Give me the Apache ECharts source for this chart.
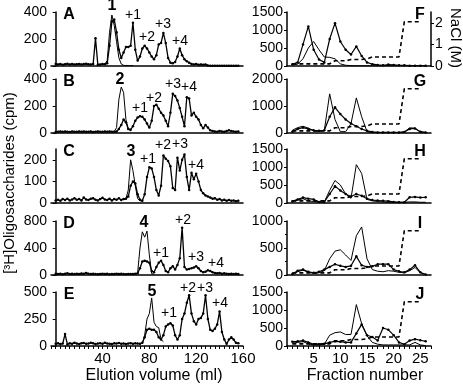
<!DOCTYPE html>
<html>
<head>
<meta charset="utf-8">
<script src="https://cdn.jsdelivr.net/npm/echarts@6/dist/echarts.min.js"></script>
<style>
html, body { margin: 0; padding: 0; background: #fff; }
#chart { width: 463px; height: 386px; }
</style>
</head>
<body>
<div id="chart"></div>
<script>
// elution volume (ml), one point every 2 ml
var volume = [0, 2, 4, 6, 8, 10, 12, 14, 16, 18, 20, 22, 24, 26, 28, 30, 32, 34, 36, 38,
	40, 42, 44, 46, 48, 50, 52, 54, 56, 58, 60, 62, 64, 66, 68, 70, 72, 74, 76, 78,
	80, 82, 84, 86, 88, 90, 92, 94, 96, 98, 100, 102, 104, 106, 108, 110, 112, 114, 116, 118,
	120, 122, 124, 126, 128, 130, 132, 134, 136, 138, 140, 142, 144, 146, 148, 150, 152, 154, 156];

// [3H]oligosaccharides (cpm), traces with dots
var cpmA = [15, 12, 14, 10, 13, 16, 12, 14, 11, 13, 15, 12, 14, 16, 13, 12, 14, 205, 10, 12,
	14, 13, 20, 150, 330, 345, 250, 120, 60, 100, 140, 140, 150, 320, 120, 40, 70, 130, 150, 130,
	100, 70, 50, 80, 160, 170, 245, 170, 60, 25, 20, 30, 70, 130, 80, 50, 35, 25, 15, 12,
	14, 10, 12, 10, 12, 4, 2, 2, 2, 2, 2, 2, 2, 2, 2, 2, 2, 2, 2];
var cpmB = [8, 10, 12, 9, 11, 10, 8, 12, 10, 9, 11, 10, 12, 9, 10, 11, 8, 10, 12, 10,
	9, 11, 10, 12, 10, 9, 11, 30, 60, 100, 80, 30, 25, 50, 90, 115, 125, 120, 100, 70,
	40, 90, 200, 210, 180, 150, 130, 90, 50, 150, 290, 275, 240, 185, 120, 50, 265, 255, 130, 150,
	120, 100, 60, 35, 60, 40, 20, 15, 12, 10, 15, 12, 10, 14, 20, 15, 12, 10, 12];
var cpmC = [12, 15, 10, 18, 14, 20, 12, 16, 22, 15, 18, 12, 25, 16, 14, 20, 22, 15, 12, 18,
	24, 16, 14, 20, 12, 18, 15, 22, 14, 18, 20, 30, 80, 100, 90, 40, 15, 10, 40, 120,
	165, 160, 120, 60, 35, 80, 220, 205, 195, 170, 70, 60, 210, 150, 200, 225, 120, 60, 140, 110,
	135, 100, 60, 45, 35, 30, 25, 20, 22, 15, 18, 12, 15, 10, 14, 10, 12, 8, 10];
var cpmD = [20, 15, 18, 12, 20, 25, 15, 18, 14, 20, 16, 22, 18, 30, 20, 15, 18, 14, 12, 16,
	20, 15, 18, 12, 14, 16, 20, 15, 18, 14, 12, 16, 15, 14, 18, 25, 100, 200, 210, 200,
	180, 60, 40, 120, 180, 210, 150, 60, 40, 100, 130, 80, 150, 250, 700, 120, 80, 90, 100, 110,
	130, 100, 60, 40, 50, 70, 60, 40, 30, 25, 30, 20, 25, 20, 15, 20, 15, 18, 15];
var cpmE = [20, 25, 18, 22, 110, 15, 25, 20, 30, 22, 18, 25, 28, 20, 22, 30, 25, 18, 22, 26,
	20, 30, 24, 20, 18, 25, 22, 28, 20, 24, 18, 22, 26, 20, 25, 22, 20, 30, 80, 150,
	160, 150, 150, 130, 80, 60, 100, 180, 200, 210, 190, 100, 60, 100, 250, 300, 400, 470, 300, 230,
	200, 250, 260, 300, 470, 250, 150, 140, 160, 200, 320, 130, 60, 20, 60, 80, 60, 30, 25];

// thin traces (no dots) around the first peak
var thinVolA = [42, 44, 46, 48, 50, 52, 54, 56, 58, 60, 62, 64, 66];
var thinA = [15, 40, 250, 378, 300, 180, 60, 15, 5, 3, 3, 3, 3];
var thinVolB = [50, 52, 54, 56, 58, 60, 62, 64];
var thinB = [10, 40, 250, 340, 300, 100, 30, 15];
var thinVolC = [58, 60, 62, 64, 66, 68, 70, 72, 74];
var thinC = [15, 20, 60, 200, 150, 80, 20, 10, 10];
var thinVolD = [70, 72, 74, 76, 78, 80, 82, 84];
var thinD = [30, 400, 640, 560, 650, 300, 20, 10];
var thinVolE = [74, 76, 78, 80, 82, 84, 86, 88, 90, 92];
var thinE = [20, 100, 250, 300, 445, 220, 180, 170, 60, 40];

// ion exchange fractions
var fraction = [1, 2, 3, 4, 5, 6, 7, 8, 9, 10, 11, 12, 13, 14, 15, 16, 17, 18, 19, 20, 21, 22, 23, 24, 25, 26];
var dotF = [50, 100, 600, 1100, 450, 180, 100, 750, 1190, 680, 450, 320, 545, 280, 100, 50, 30, 20, 40, 30, 20, 20, 10, 10, 10, 10];
var lineF = [30, 50, 200, 500, 680, 450, 250, 240, 200, 60, 20, 10, 5, 5, 5, 5, 5, 5, 5, 5, 5, 5, 5, 5, 5, 5];
var dotG = [50, 150, 200, 150, 100, 80, 100, 600, 950, 700, 500, 350, 250, 150, 80, 40, 20, 20, 20, 20, 20, 40, 150, 170, 50, 20];
var lineG = [100, 200, 250, 180, 80, 60, 100, 1450, 500, 50, 50, 350, 1300, 600, 50, 20, 10, 10, 10, 10, 10, 40, 190, 180, 30, 10];
var dotH = [50, 100, 150, 120, 100, 30, 30, 250, 465, 350, 250, 180, 250, 200, 120, 80, 70, 60, 50, 30, 20, 20, 160, 170, 150, 160];
var lineH = [30, 80, 120, 60, 40, 20, 30, 350, 625, 500, 250, 130, 1065, 820, 100, 60, 40, 30, 20, 20, 20, 20, 30, 30, 20, 20];
var dotI = [20, 80, 100, 60, 40, 60, 100, 150, 200, 170, 150, 170, 345, 180, 150, 160, 200, 200, 200, 100, 70, 50, 100, 180, 50, 10];
var lineI = [10, 60, 90, 50, 30, 40, 80, 300, 442, 467, 370, 270, 727, 890, 300, 100, 70, 60, 80, 70, 50, 40, 80, 140, 40, 5];
var dotJ = [120, 130, 150, 100, 50, 50, 60, 100, 130, 120, 100, 100, 350, 600, 300, 250, 150, 500, 450, 300, 100, 50, 150, 190, 160, 130];
var lineJ = [80, 100, 120, 60, 30, 30, 50, 300, 370, 390, 320, 320, 1150, 620, 280, 100, 50, 30, 30, 30, 30, 30, 30, 100, 30, 10];

// NaCl gradient (M), fractions 1-25
var nacl = [0.1, 0.1, 0.1, 0.1, 0.1, 0.1, 0.1, 0.1, 0.24, 0.24, 0.24, 0.3, 0.3, 0.3, 0.33, 0.42, 0.42, 0.42, 0.42, 0.42, 0.42, 2.05, 2.05, 2.05, 2.05];

var leftMax = [400, 400, 250, 800, 500];
var leftStep = [200, 200, 100, 400, 250];
var rightMax = [1500, 2000, 1500, 1000, 1500];
var rightStep = [500, 1000, 500, 500, 500];

var leftDots = [cpmA, cpmB, cpmC, cpmD, cpmE];
var leftThinX = [thinVolA, thinVolB, thinVolC, thinVolD, thinVolE];
var leftThin = [thinA, thinB, thinC, thinD, thinE];
var rightDots = [dotF, dotG, dotH, dotI, dotJ];
var rightLines = [lineF, lineG, lineH, lineI, lineJ];

var FONT = '"Liberation Sans", Arial, sans-serif';
var tops = [12, 79, 149, 221, 292];
var H = 54;

var grids = [], xAxes = [], yAxes = [], series = [];

function pairs(xs, ys) {
	return xs.map(function (x, i) { return [x, ys[i]]; });
}
function plain(v) { return String(v); }

// left column: elution profiles (grids 0-4)
for (var k = 0; k < 5; k++) {
	grids.push({ left: 51, top: tops[k], width: 192, height: H });
	xAxes.push({
		type: 'value', gridIndex: k, min: -4, max: 160, interval: 4,
		axisLine: { lineStyle: { color: '#000', width: 1.5 } },
		axisTick: { show: k === 4, length: 3, lineStyle: { color: '#000' } },
		axisLabel: {
			show: k === 4, color: '#000', fontSize: 15, fontFamily: FONT, margin: 5,
			formatter: function (v) { return (v > 0 && v % 40 === 0) ? String(v) : ''; }
		},
		splitLine: { show: false }
	});
}
// right column: ion exchange (grids 5-9)
for (var k = 0; k < 5; k++) {
	grids.push({ left: 287, top: tops[k], width: 144, height: H });
	xAxes.push({
		type: 'value', gridIndex: k + 5, min: 0, max: 27, interval: 1,
		axisLine: { lineStyle: { color: '#000', width: 1.5 } },
		axisTick: { show: k === 4, length: 3, lineStyle: { color: '#000' } },
		axisLabel: {
			show: k === 4, color: '#000', fontSize: 15, fontFamily: FONT, margin: 5,
			formatter: function (v) { return (v > 0 && v % 5 === 0) ? String(v) : ''; }
		},
		splitLine: { show: false }
	});
}

for (var k = 0; k < 5; k++) {
	yAxes.push({
		type: 'value', gridIndex: k, min: 0, max: leftMax[k], interval: leftStep[k],
		axisLine: { show: true, lineStyle: { color: '#000', width: 1.5 } },
		axisTick: { show: true, length: 3, lineStyle: { color: '#000' } },
		axisLabel: { color: '#000', fontSize: 14, fontFamily: FONT, margin: 4, formatter: plain },
		splitLine: { show: false }
	});
}
for (var k = 0; k < 5; k++) {
	yAxes.push({
		type: 'value', gridIndex: k + 5, min: 0, max: rightMax[k], interval: rightStep[k],
		axisLine: { show: true, lineStyle: { color: '#000', width: 1.5 } },
		axisTick: { show: true, length: 3, lineStyle: { color: '#000' } },
		minorTick: { show: k === 3, splitNumber: 2, length: 2, lineStyle: { color: '#000' } },
		axisLabel: { color: '#000', fontSize: 14, fontFamily: FONT, margin: 4, formatter: plain },
		splitLine: { show: false }
	});
}
// NaCl axes, only the top one is drawn
for (var k = 0; k < 5; k++) {
	yAxes.push({
		type: 'value', gridIndex: k + 5, position: 'right', min: 0, max: 2.5, interval: 1,
		show: k === 0,
		axisLine: { show: true, lineStyle: { color: '#000', width: 1.5 } },
		axisTick: { show: true, length: 3, lineStyle: { color: '#000' } },
		axisLabel: { color: '#000', fontSize: 14, fontFamily: FONT, margin: 4, formatter: plain },
		splitLine: { show: false }
	});
}

for (var k = 0; k < 5; k++) {
	series.push({
		type: 'line', xAxisIndex: k, yAxisIndex: k, data: pairs(volume, leftDots[k]),
		symbol: 'circle', symbolSize: 2.5, showSymbol: true,
		lineStyle: { color: '#000', width: 1.3 }, itemStyle: { color: '#000' }
	});
	series.push({
		type: 'line', xAxisIndex: k, yAxisIndex: k, data: pairs(leftThinX[k], leftThin[k]),
		showSymbol: false, lineStyle: { color: '#000', width: 1 }
	});
	series.push({
		type: 'line', xAxisIndex: k + 5, yAxisIndex: k + 5, data: pairs(fraction, rightDots[k]),
		symbol: 'circle', symbolSize: 2.5, showSymbol: true,
		lineStyle: { color: '#000', width: 1.2 }, itemStyle: { color: '#000' }
	});
	series.push({
		type: 'line', xAxisIndex: k + 5, yAxisIndex: k + 5, data: pairs(fraction, rightLines[k]),
		showSymbol: false, lineStyle: { color: '#000', width: 1 }
	});
	series.push({
		type: 'line', xAxisIndex: k + 5, yAxisIndex: k + 10, data: pairs(fraction.slice(0, nacl.length), nacl),
		showSymbol: false, lineStyle: { color: '#000', width: 1.6, type: [4, 3] }
	});
}

function txt(x, y, s, size, bold, extra) {
	var o = {
		type: 'text', x: x, y: y,
		style: {
			text: s, fill: '#000', font: (bold ? 'bold ' : '') + size + 'px ' + FONT,
			textAlign: 'center', textVerticalAlign: 'middle'
		}
	};
	if (extra) { for (var key in extra) o[key] = extra[key]; }
	return o;
}

var panelLetters = ['A', 'B', 'C', 'D', 'E'];
var panelLetters2 = ['F', 'G', 'H', 'I', 'J'];
var graphics = [];
for (var k = 0; k < 5; k++) {
	graphics.push(txt(69, tops[k] + 3, panelLetters[k], 16, true));
	graphics.push(txt(420, tops[k] + 3, panelLetters2[k], 16, true));
}
// peak labels
var peakLabels = [
	[[112, 6, '1', true], [133, 15, '+1'], [147, 37, '+2'], [163, 24, '+3'], [180, 41, '+4']],
	[[120, 80, '2', true], [140, 108, '+1'], [154, 98, '+2'], [173, 84, '+3'], [189, 87, '+4']],
	[[131, 152, '3', true], [148, 159, '+1'], [163, 145, '+2'], [180, 144, '+3'], [196, 165, '+4']],
	[[144, 223, '4', true], [161, 253, '+1'], [183, 220, '+2'], [196, 257, '+3'], [216, 263, '+4']],
	[[152, 292, '5', true], [169, 313, '+1'], [188, 288, '+2'], [205, 288, '+3'], [220, 303, '+4']]
];
peakLabels.forEach(function (row) {
	row.forEach(function (p) { graphics.push(txt(p[0], p[1], p[2], p[3] ? 16 : 14, !!p[3])); });
});
graphics.push(txt(10, 183, '[\u00b3H]Oligosaccharides (cpm)', 15, false, { rotation: Math.PI / 2 }));
graphics.push(txt(455, 38, 'NaCl (M)', 15, false, { rotation: -Math.PI / 2 }));
graphics.push(txt(154, 376, 'Elution volume (ml)', 16, false));
graphics.push(txt(365, 376, 'Fraction number', 16, false));

var myChart = echarts.init(document.getElementById('chart'));
myChart.setOption({
	animation: false,
	grid: grids,
	xAxis: xAxes,
	yAxis: yAxes,
	series: series,
	graphic: graphics
});
</script>
</body>
</html>
